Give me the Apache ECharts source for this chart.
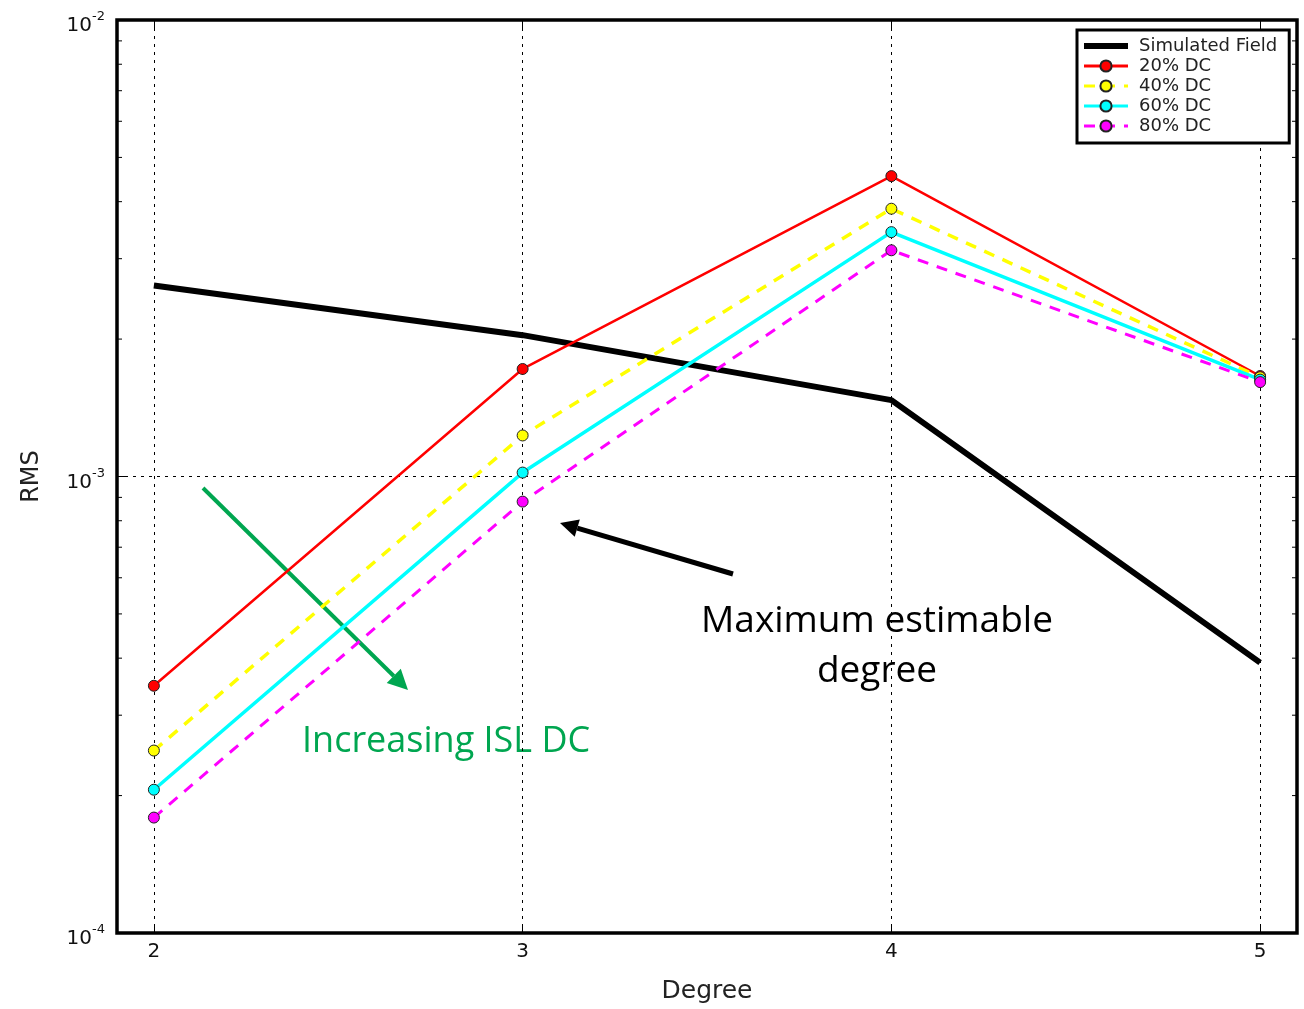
<!DOCTYPE html>
<html lang="en">
<head>
    <meta charset="UTF-8">
    <title>RMS vs Degree</title>
    <script src="https://cdn.jsdelivr.net/npm/echarts@6/dist/echarts.min.js"></script>
</head>
<body style="margin:0">
    <div id="main" style="width: 1304px; height:1009px"></div>
    <script>
        var myEcharts = echarts.init(document.getElementById('main'))

        var degrees = [2, 3, 4, 5]
        var simField = [2.62e-3, 2.04e-3, 1.47e-3, 3.91e-4]
        var dc20 = [3.48e-4, 1.72e-3, 4.55e-3, 1.66e-3]
        var dc40 = [2.51e-4, 1.23e-3, 3.86e-3, 1.65e-3]
        var dc60 = [2.06e-4, 1.02e-3, 3.43e-3, 1.63e-3]
        var dc80 = [1.79e-4, 8.81e-4, 3.13e-3, 1.61e-3]
        var minorTicks = [2e-4, 3e-4, 4e-4, 5e-4, 6e-4, 7e-4, 8e-4, 9e-4,
                          2e-3, 3e-3, 4e-3, 5e-3, 6e-3, 7e-3, 8e-3, 9e-3]

        var font = 'DejaVu Sans'

        function pairs(ys) {
            return degrees.map(function (d, i) { return [d, ys[i]] })
        }

        // arrow = line + triangle head
        function arrow(x1, y1, x2, y2, color, w, head) {
            var a = Math.atan2(y2 - y1, x2 - x1)
            var bx = x2 - head * Math.cos(a), by = y2 - head * Math.sin(a)
            var px = Math.sin(a) * head * 0.5, py = -Math.cos(a) * head * 0.5
            return [
                { type: 'line', shape: { x1: x1, y1: y1, x2: bx, y2: by }, style: { stroke: color, lineWidth: w } },
                { type: 'polygon', shape: { points: [[x2, y2], [bx + px, by + py], [bx - px, by - py]] }, style: { fill: color } }
            ]
        }

        function lineSeries(name, data, color, width, dashed, withSymbol) {
            return {
                name: name,
                type: 'line',
                data: pairs(data),
                symbol: withSymbol ? 'circle' : 'none',
                symbolSize: 11,
                showSymbol: withSymbol,
                itemStyle: { color: color, borderColor: '#222', borderWidth: 1 },
                lineStyle: { color: color, width: width, type: dashed ? [11, 9] : 'solid' },
                emphasis: { disabled: true },
                z: 3
            }
        }

        var expLabel = {
            show: true,
            fontFamily: font,
            fontSize: 20,
            color: '#111',
            formatter: function (v) {
                var e = Math.round(Math.log10(v))
                return '{b|10}{s|' + e + '}'
            },
            rich: {
                b: { fontFamily: font, fontSize: 20, color: '#111', padding: [12, 0, 0, 0] },
                s: { fontFamily: font, fontSize: 13, color: '#111', padding: [0, 0, 6, 0] }
            }
        }

        var option = {
            animation: false,
            grid: {
                left: 117, right: 7, top: 20, bottom: 74,
                show: true, borderColor: '#000', borderWidth: 3.5
            },
            legend: {
                orient: 'vertical',
                left: 1077, top: 30,
                padding: [7, 12, 8, 4],
                itemWidth: 44, itemHeight: 14, itemGap: 2,
                borderColor: '#000', borderWidth: 3,
                backgroundColor: '#fff',
                textStyle: { fontFamily: font, fontSize: 18, lineHeight: 18, color: '#222', padding: [0, 0, 0, 6] },
                data: [
                    { name: 'Simulated Field', itemStyle: { opacity: 0 }, lineStyle: { width: 6 } },
                    { name: '20% DC', lineStyle: { width: 3 } },
                    { name: '40% DC', lineStyle: { width: 3 } },
                    { name: '60% DC', lineStyle: { width: 3 } },
                    { name: '80% DC', lineStyle: { width: 3 } }
                ]
            },
            xAxis: [{
                type: 'value',
                min: 1.9, max: 5.1,
                name: 'Degree',
                nameLocation: 'middle',
                nameGap: 46,
                nameTextStyle: { fontFamily: font, fontSize: 25, color: '#222' },
                axisLine: { show: false },
                axisTick: { show: true, inside: true, length: 8, customValues: degrees, lineStyle: { color: '#000' } },
                axisLabel: { customValues: degrees, fontFamily: font, fontSize: 20, color: '#111', margin: 9 },
                splitLine: { show: true, lineStyle: { color: '#000', type: [3, 5], width: 1 } }
            }, {
                type: 'value',
                position: 'top',
                min: 1.9, max: 5.1,
                axisLine: { show: false },
                axisTick: { show: true, inside: true, length: 8, customValues: degrees, lineStyle: { color: '#000' } },
                axisLabel: { show: false },
                splitLine: { show: false }
            }],
            yAxis: [{
                type: 'log',
                logBase: 10,
                min: 1e-4, max: 1e-2,
                name: 'RMS',
                nameLocation: 'middle',
                nameGap: 73,
                nameRotate: 90,
                nameTextStyle: { fontFamily: font, fontSize: 24, color: '#222' },
                axisLine: { show: false },
                axisTick: { show: true, inside: true, length: 8, lineStyle: { color: '#000' } },
                axisLabel: Object.assign({ margin: 12, verticalAlign: 'middle' }, expLabel),
                splitLine: { show: true, lineStyle: { color: '#000', type: [3, 5], width: 1 } }
            }, {
                type: 'log',
                logBase: 10,
                position: 'right',
                min: 1e-4, max: 1e-2,
                axisLine: { show: false },
                axisTick: { show: true, inside: true, length: 8, lineStyle: { color: '#000' } },
                axisLabel: { show: false },
                splitLine: { show: false }
            }],
            series: [
                lineSeries('Simulated Field', simField, '#000', 6, false, false),
                lineSeries('20% DC', dc20, '#ff0000', 2.5, false, true),
                lineSeries('40% DC', dc40, '#ffff00', 3.5, true, true),
                lineSeries('60% DC', dc60, '#00ffff', 3.5, false, true),
                lineSeries('80% DC', dc80, '#ff00ff', 3, true, true),
                {
                    // minor log ticks on left and right frame
                    type: 'custom',
                    silent: true,
                    data: minorTicks,
                    encode: { y: 0 },
                    renderItem: function (params, api) {
                        var v = api.value(0)
                        var l = api.coord([1.9, v])
                        var r = api.coord([5.1, v])
                        var st = { stroke: '#000', lineWidth: 1 }
                        return {
                            type: 'group',
                            children: [
                                { type: 'line', shape: { x1: l[0], y1: l[1], x2: l[0] + 5, y2: l[1] }, style: st },
                                { type: 'line', shape: { x1: r[0], y1: r[1], x2: r[0] - 5, y2: r[1] }, style: st }
                            ]
                        }
                    },
                    z: 4
                }
            ],
            graphic: [].concat(
                arrow(733, 574, 560, 523, '#000', 5, 18),
                arrow(203, 488, 408, 690, '#00a650', 4, 20),
                [{
                    type: 'text',
                    x: 877, y: 603,
                    style: { text: 'Maximum estimable', fontFamily: 'Open Sans', fontSize: 37, fill: '#000', align: 'center' }
                }, {
                    type: 'text',
                    x: 877, y: 653,
                    style: { text: 'degree', fontFamily: 'Open Sans', fontSize: 37, fill: '#000', align: 'center' }
                }, {
                    type: 'text',
                    x: 302, y: 724,
                    style: { text: 'Increasing ISL DC', fontFamily: 'Open Sans', fontSize: 36, fill: '#00a650' }
                }]
            )
        }

        myEcharts.setOption(option)
    </script>
</body>
</html>
